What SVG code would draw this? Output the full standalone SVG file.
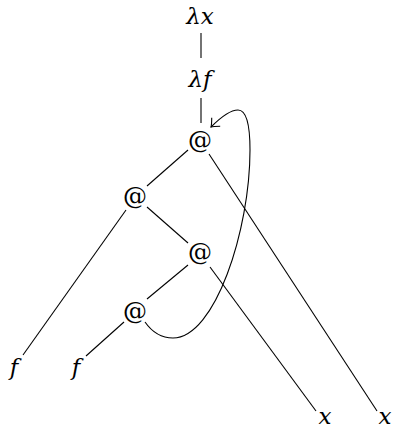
<svg xmlns="http://www.w3.org/2000/svg" width="393" height="431" viewBox="0 0 393 431">
<style>
.lbl{font-family:"DejaVu Serif",serif;font-size:23px;font-style:italic;fill:#000;text-anchor:middle}
.at{font-family:"DejaVu Serif",serif;font-size:24px;fill:#000;text-anchor:middle}
.e{stroke:#000;stroke-width:1.1;fill:none}
</style>
<defs>
<marker id="to" markerUnits="userSpaceOnUse" markerWidth="16" markerHeight="16" refX="0" refY="0" viewBox="-10 -8 12 16" orient="auto" overflow="visible">
<path d="M-7,-6 Q-2,-1 0,0 Q-2,1 -7,6" fill="none" stroke="#000" stroke-width="1.1"/>
</marker>
</defs>
<rect width="393" height="431" fill="#fff"/>
<g id="connectors">
<line class="e" x1="201" y1="33" x2="201" y2="58"/>
<line class="e" x1="201" y1="98" x2="201" y2="123"/>
<line class="e" x1="188" y1="150" x2="147" y2="186"/>
<line class="e" x1="209" y1="154" x2="377" y2="411"/>
<line class="e" x1="126" y1="210" x2="23" y2="355"/>
<line class="e" x1="147" y1="207" x2="188" y2="243"/>
<line class="e" x1="188" y1="265" x2="147" y2="299"/>
<line class="e" x1="210" y1="267" x2="316" y2="411"/>
<line class="e" x1="124" y1="322" x2="86" y2="356"/>
<path class="e" marker-end="url(#to)" d="M145,322 C152,332 162,338 173,338 C215,338 250,230 250,150 C250,128 247,110 238,110 C230,110 220,118 211,127"/>
</g>
<g id="lam-x"><text class="lbl" x="200" y="24">λx</text></g>
<g id="lam-f"><text class="lbl" x="200" y="87">λf</text></g>
<g id="app-top"><text class="at" x="200" y="148">@</text></g>
<g id="app-left"><text class="at" x="135" y="204">@</text></g>
<g id="app-mid"><text class="at" x="200" y="260">@</text></g>
<g id="app-bot"><text class="at" x="135" y="319">@</text></g>
<g id="f1"><text class="lbl" x="14" y="375">f</text></g>
<g id="f2"><text class="lbl" x="76" y="375">f</text></g>
<g id="x1"><text class="lbl" x="325" y="424">x</text></g>
<g id="x2"><text class="lbl" x="385" y="424">x</text></g>
</svg>
